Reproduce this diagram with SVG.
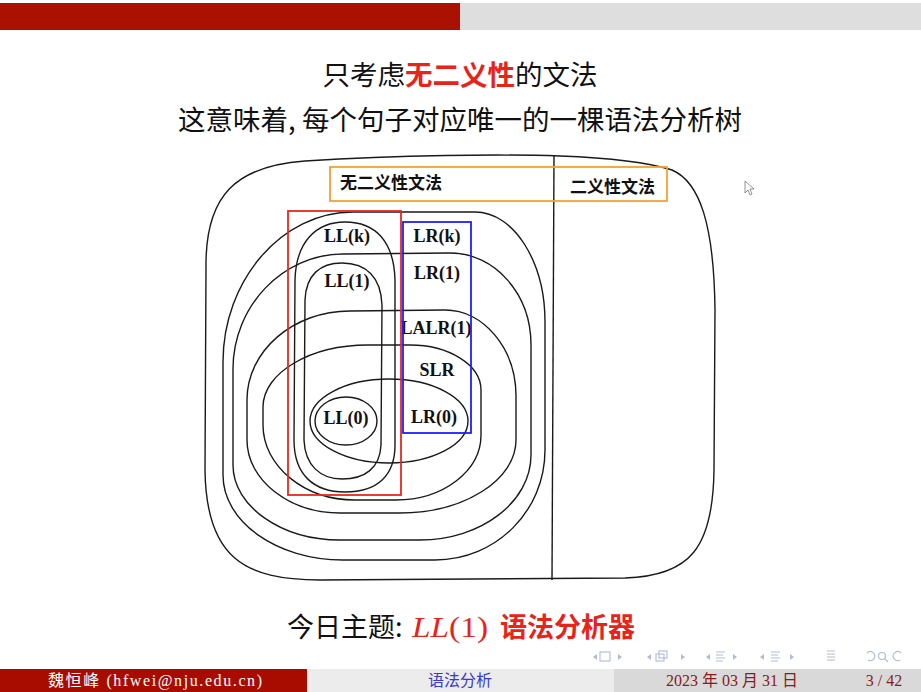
<svg xmlns="http://www.w3.org/2000/svg" width="921" height="692" viewBox="0 0 921 692">
  <style>
    .cjk { font-family: "Noto Sans CJK SC", sans-serif; }
    .c { fill: none; stroke: #1a1a1a; stroke-width: 1.4; }
    .lbl { font-family: "Liberation Serif", serif; font-weight: bold; font-size: 18px; text-anchor: middle; fill: #111; }
    .tag { font-family: "Noto Sans CJK SC", sans-serif; font-weight: bold; font-size: 17px; fill: #111; }
    .nav { fill: none; stroke: #b3bbd3; stroke-width: 1.1; }
    .navf { fill: #b3bbd3; }
    .foot { font-family: "Liberation Serif", "Noto Sans CJK SC", serif; font-size: 16px; }
  </style>

  <rect width="921" height="692" fill="#ffffff"/>

  <!-- header bar -->
  <g id="header-bar">
    <rect x="0" y="3" width="460" height="27" fill="#aa1100"/>
    <rect x="460" y="3" width="461" height="27" fill="#dedede"/>
  </g>

  <!-- title lines -->
  <g id="title" class="cjk" font-size="27.5" text-anchor="middle" fill="#111">
    <text x="460" y="85">只考虑<tspan fill="#e8231a" font-weight="bold">无二义性</tspan>的文法</text>
    <text x="460" y="130">这意味着, 每个句子对应唯一的一棵语法分析树</text>
  </g>

  <!-- outer frame: unambiguous | ambiguous grammars -->
  <g id="frame">
    <path class="c" d="M 205 470 L 206 268 C 205 195 236 166 305 161 C 400 155 500 154 560 156 C 615 158 650 163 672 170 C 700 182 714 225 715 310 L 714 470 C 713 548 690 576 625 578 L 320 580 C 245 580 206 558 205 470 Z"/>
    <line class="c" x1="554" y1="156" x2="552" y2="580"/>
  </g>

  <!-- nested grammar classes -->
  <g id="lrk">
    <path class="c" d="M 223 362 C 223 280 282 212 353 212 L 475 212 C 514 212 545 262 545 322 L 545 450 C 545 511 496 560 435 560 L 343 560 C 277 560 223 522 223 475 Z"/>
    <text class="lbl" x="437" y="242">LR(k)</text>
  </g>
  <g id="lr1">
    <path class="c" d="M 233 369 C 233 306 283 254 343 254 L 450 253 C 495 253 531 294 531 345 L 531 455 C 531 502 481 540 420 540 L 340 540 C 281 540 233 506 233 465 Z"/>
    <text class="lbl" x="437" y="279">LR(1)</text>
  </g>
  <g id="lalr1">
    <path class="c" d="M 247 400 C 247 351 293 311 350 311 L 445 310 C 484 310 516 349 516 396 L 516 440 C 516 480 464 513 400 513 L 340 513 C 289 513 247 480 247 440 Z"/>
    <text class="lbl" x="436" y="334">LALR(1)</text>
  </g>
  <g id="slr">
    <path class="c" d="M 263 407 C 263 373 310 345 368 345 L 410 345 C 449 345 481 365 481 390 L 481 435 C 481 471 443 500 396 500 L 355 500 C 304 500 263 466 263 425 Z"/>
    <text class="lbl" x="437" y="376">SLR</text>
  </g>
  <g id="lr0">
    <ellipse class="c" cx="389" cy="421" rx="79" ry="42"/>
    <text class="lbl" x="434" y="423">LR(0)</text>
  </g>
  <g id="llk">
    <path class="c" d="M 294 440 L 295 280 C 296 242 316 222 345 222 C 376 222 394 242 395 280 L 395 445 C 395 475 378 492 345 492 C 314 492 294 475 294 440 Z"/>
    <text class="lbl" x="347" y="242">LL(k)</text>
  </g>
  <g id="ll1">
    <path class="c" d="M 304 440 L 305 300 C 306 275 320 263 342 263 C 366 263 381 277 382 305 L 381 445 C 380 468 365 479 342 479 C 320 479 305 465 304 440 Z"/>
    <text class="lbl" x="347" y="287">LL(1)</text>
  </g>
  <g id="ll0">
    <ellipse class="c" cx="346" cy="421" rx="31" ry="24"/>
    <text class="lbl" x="346" y="424">LL(0)</text>
  </g>

  <!-- highlight boxes -->
  <g id="highlights" fill="none" stroke-width="1.8">
    <rect x="330" y="167" width="337" height="34" stroke="#f5a030"/>
    <rect x="288" y="211" width="113" height="284" stroke="#e8291c"/>
    <rect x="403" y="222" width="68" height="211" stroke="#1f1fff"/>
  </g>
  <g id="region-labels">
    <text class="tag" x="340" y="189">无二义性文法</text>
    <text class="tag" x="570" y="193">二义性文法</text>
  </g>

  <!-- pointer -->
  <path d="M 745 181 L 745 193 L 748 190 L 750 195 L 752 194 L 750 189 L 754 189 Z" fill="#ffffff" stroke="#777" stroke-width="0.8"/>

  <!-- topic line -->
  <g id="topic" font-size="27">
    <text class="cjk" x="287" y="637" fill="#111">今日主题:</text>
    <text x="412" y="637" fill="#e8231a" font-family="Liberation Serif, serif" font-size="30" textLength="76" lengthAdjust="spacingAndGlyphs"><tspan font-style="italic">LL</tspan>(1)</text>
    <text class="cjk" x="500" y="637" fill="#e8231a" font-weight="bold">语法分析器</text>
  </g>

  <!-- navigation symbols -->
  <g id="nav">
    <polygon class="navf" points="597,654 593,657 597,660"/>
    <rect class="nav" x="600" y="652" width="10" height="9"/>
    <polygon class="navf" points="618,654 622,657 618,660"/>

    <polygon class="navf" points="651,654 647,657 651,660"/>
    <rect class="nav" x="659" y="651" width="8" height="7"/>
    <rect class="nav" x="656" y="654" width="8" height="7" fill="#fff"/>
    <polygon class="navf" points="681,654 685,657 681,660"/>

    <polygon class="navf" points="710,654 706,657 710,660"/>
    <path class="nav" d="M 716 652 h 9 M 716 655 h 7 M 716 658 h 9 M 716 661 h 7"/>
    <polygon class="navf" points="733,654 737,657 733,660"/>

    <polygon class="navf" points="764,654 760,657 764,660"/>
    <path class="nav" d="M 771 652 h 9 M 771 655 h 7 M 771 658 h 9 M 771 661 h 7"/>
    <polygon class="navf" points="790,654 794,657 790,660"/>

    <path class="nav" d="M 827 651 h 8 M 827 654 h 8 M 827 657 h 8 M 827 660 h 8"/>

    <path class="nav" d="M 867 653 A 4.5 4.5 0 1 1 868 660"/>
    <circle class="nav" cx="882" cy="656" r="3.5"/>
    <path class="nav" d="M 884.5 658.5 L 888 662"/>
    <path class="nav" d="M 901 653 A 4.5 4.5 0 1 0 900 660"/>
  </g>

  <!-- footer -->
  <g id="footer">
    <rect x="0" y="669" width="307" height="23" fill="#a80c00"/>
    <rect x="307" y="669" width="307" height="23" fill="#ececec"/>
    <rect x="614" y="669" width="307" height="23" fill="#d9d9d9"/>
    <text class="foot" x="48" y="686" fill="#ffffff" font-size="17" textLength="214" lengthAdjust="spacing">魏恒峰 (hfwei@nju.edu.cn)</text>
    <text class="foot" x="460" y="686" fill="#3a3ad0" text-anchor="middle" font-size="15">语法分析</text>
    <text class="foot" x="732" y="686" fill="#8b1a1a" text-anchor="middle">2023 年 03 月 31 日</text>
    <text class="foot" x="884" y="686" fill="#8b1a1a" text-anchor="middle">3 / 42</text>
  </g>
</svg>
